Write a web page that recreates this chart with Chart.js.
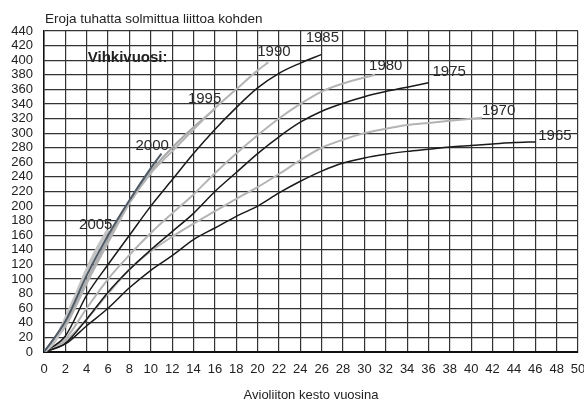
<!DOCTYPE html>
<html>
<head>
<meta charset="utf-8">
<script src="https://cdn.jsdelivr.net/npm/chart.js@4"></script>
<style>
  html, body { margin: 0; padding: 0; background: #fff; }
  #wrap { width: 584px; height: 403px; }
</style>
</head>
<body>
<div id="wrap"><canvas id="chart" width="584" height="403"></canvas></div>
<script>
// vihkivuodet ja niiden käyrät (avioliiton kesto vuosina -> eroja / 1000 liittoa)
const years = ['1965', '1970', '1975', '1980', '1985', '1990', '1995', '2000', '2005'];

const x1965 = [0, 2, 4, 6, 8, 10, 12, 14, 16, 18, 20, 22, 24, 26, 28, 30, 32, 34, 36, 38, 40, 42, 44, 46];
const y1965 = [0, 11, 36, 60, 88, 112, 132, 154, 170, 186, 200, 218, 234, 248, 259, 266, 271, 275, 278, 281, 283, 285, 287, 288];

const x1970 = [0, 2, 4, 6, 8, 10, 12, 14, 16, 18, 20, 22, 24, 26, 28, 30, 32, 34, 36, 38, 41];
const y1970 = [0, 15, 45, 80, 113, 138, 158, 176, 193, 210, 226, 244, 263, 280, 291, 300, 306, 311, 314, 317, 321];

const x1975 = [0, 2, 4, 6, 8, 10, 12, 14, 16, 18, 20, 22, 24, 26, 28, 30, 32, 34, 36];
const y1975 = [0, 12, 45, 82, 113, 140, 165, 190, 220, 246, 272, 295, 315, 330, 341, 350, 357, 363, 369];

const x1980 = [0, 2, 4, 6, 8, 10, 12, 14, 16, 18, 20, 22, 24, 26, 28, 31];
const y1980 = [0, 18, 60, 100, 133, 163, 190, 216, 245, 272, 297, 320, 340, 357, 368, 380];

const x1985 = [0, 2, 4, 6, 8, 10, 12, 14, 16, 18, 20, 22, 24, 26];
const y1985 = [0, 22, 78, 120, 160, 200, 236, 272, 305, 335, 362, 382, 396, 408];

const x1990 = [0, 2, 4, 6, 8, 10, 12, 14, 16, 18, 20, 21];
const y1990 = [0, 35, 94, 150, 204, 245, 275, 305, 334, 360, 386, 397];

const x1995 = [0, 2, 4, 6, 8, 10, 12, 14, 16];
const y1995 = [0, 38, 98, 155, 207, 248, 280, 308, 333];

const x2000 = [0, 2, 4, 6, 8, 10, 11];
const y2000 = [0, 42, 105, 160, 208, 252, 272];

const x2005 = [0, 1, 2, 3, 4, 5, 6];
const y2005 = [0, 15, 45, 78, 112, 142, 167];

const xTicks = [0, 2, 4, 6, 8, 10, 12, 14, 16, 18, 20, 22, 24, 26, 28, 30, 32, 34, 36, 38, 40, 42, 44, 46, 48, 50];
const yTicks = [0, 20, 40, 60, 80, 100, 120, 140, 160, 180, 200, 220, 240, 260, 280, 300, 320, 340, 360, 380, 400, 420, 440];

const xs = [x1965, x1970, x1975, x1980, x1985, x1990, x1995, x2000, x2005];
const ys = [y1965, y1970, y1975, y1980, y1985, y1990, y1995, y2000, y2005];

// line styles and label offsets (px from the last point)
const colors = ['#1a1a1a', '#b4b4b4', '#1a1a1a', '#b4b4b4', '#1a1a1a', '#b4b4b4', '#a8a8a8', '#4e5a66', '#c4c4c4'];
const widths = [1.5, 2, 1.5, 2, 1.5, 2, 2, 2, 3.5];
const labelDx = [3, 0, 4, -6, -16, -11, -27, -26, -29];
const labelDy = [-6, -7, -11, -9, -16, -11, -10, -8, -5];

const FONT = 'Liberation Sans, Arial, sans-serif';

const datasets = years.map((yr, i) => ({
  label: yr,
  data: xs[i].map((x, j) => ({ x: x, y: ys[i][j] })),
  borderColor: colors[i],
  borderWidth: widths[i],
  pointRadius: 0,
  fill: false,
  cubicInterpolationMode: 'monotone',
  order: colors[i] === '#1a1a1a' ? 1 : 2
}));
// draw 2005 / 2000 on top
datasets[7].order = 0;
datasets[8].order = 0.5;

const textPlugin = {
  id: 'texts',
  afterDatasetsDraw(chart) {
    const ctx = chart.ctx;
    const area = chart.chartArea;
    const sx = chart.scales.x, sy = chart.scales.y;
    ctx.save();
    ctx.fillStyle = '#2a2a2a';
    ctx.font = '15px ' + FONT;
    ctx.textBaseline = 'middle';
    ctx.textAlign = 'left';
    years.forEach((yr, i) => {
      const lx = xs[i][xs[i].length - 1];
      const ly = ys[i][ys[i].length - 1];
      const px = sx.getPixelForValue(lx) + labelDx[i];
      const py = sy.getPixelForValue(ly) + labelDy[i];
      ctx.fillText(yr, px, py);
    });
    ctx.fillStyle = '#222';
    ctx.font = 'bold 15px ' + FONT;
    ctx.fillText('Vihkivuosi:', sx.getPixelForValue(4.1), sy.getPixelForValue(403));
    // title above the plot
    ctx.font = '13.5px ' + FONT;
    ctx.fillStyle = '#222';
    ctx.textBaseline = 'alphabetic';
    ctx.fillText('Eroja tuhatta solmittua liittoa kohden', area.left + 1, area.top - 8);
    ctx.restore();
  }
};

new Chart(document.getElementById('chart'), {
  type: 'line',
  data: { datasets: datasets },
  plugins: [textPlugin],
  options: {
    responsive: false,
    animation: false,
    layout: { padding: { top: 31, right: 6, left: 0, bottom: 0 } },
    plugins: {
      legend: { display: false },
      tooltip: { enabled: false }
    },
    scales: {
      x: {
        type: 'linear',
        min: 0,
        max: 50,
        afterBuildTicks: s => { s.ticks = xTicks.map(v => ({ value: v })); },
        afterFit: s => { s.height = 51; s.paddingRight = 0; s.paddingLeft = 0; },
        grid: { color: '#333', lineWidth: 1.2, drawTicks: false },
        border: { color: '#111', width: 2 },
        ticks: { color: '#222', font: { family: FONT, size: 13 }, padding: 10, maxRotation: 0, autoSkip: false },
        title: { display: true, text: 'Avioliiton kesto vuosina', color: '#222', font: { family: FONT, size: 13 }, padding: { top: 3, bottom: 0 } }
      },
      y: {
        min: 0,
        max: 440,
        afterBuildTicks: s => { s.ticks = yTicks.map(v => ({ value: v })); },
        afterFit: s => { s.width = 44; s.paddingTop = 0; s.paddingBottom = 0; },
        grid: { color: '#333', lineWidth: 1.2, drawTicks: false },
        border: { color: '#111', width: 1.5 },
        ticks: { color: '#222', font: { family: FONT, size: 13 }, padding: 11, autoSkip: false }
      }
    }
  }
});
</script>
</body>
</html>
